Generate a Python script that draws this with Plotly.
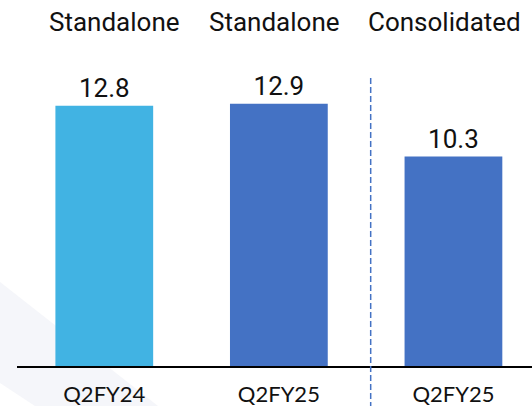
import plotly.graph_objects as go

categories = ["Q2FY24", "Q2FY25", "Q2FY25 "]
tick_labels = ["Q2FY24", "Q2FY25", "Q2FY25"]
values = [12.8, 12.9, 10.3]
bar_colors = ["#41B3E3", "#4472C4", "#4472C4"]
group_labels = ["Standalone", "Standalone", "Consolidated"]

fig = go.Figure()
fig.add_trace(go.Bar(
    x=[0, 1, 2], y=values,
    marker=dict(color=bar_colors, line=dict(width=0)),
    width=0.56,
    text=[f"{v:.1f}" for v in values],
    textposition="outside",
    textfont=dict(family="Roboto", size=26, color="#111111"),
    cliponaxis=False,
    hoverinfo="skip",
))

# header labels
shifts = [10, -4, -9]
for i, (lab, sh) in enumerate(zip(group_labels, shifts)):
    fig.add_annotation(x=i, y=0.94, xref="x", yref="paper", text=lab,
                       showarrow=False, xshift=sh, yanchor="middle",
                       font=dict(family="Roboto", size=26, color="#111111"))

# background decoration
def px2paper(px, py):
    return (px - 17) / 515, (366 - py) / 366

pts = [px2paper(0, 282), px2paper(158, 406), px2paper(35, 406), px2paper(0, 383)]
path = "M " + " L ".join(f"{x:.4f},{y:.4f}" for x, y in pts) + " Z"
fig.add_shape(type="path", path=path, xref="paper", yref="paper",
              fillcolor="#F5F6FA", line=dict(width=0), layer="below")

# separator dashed line
fig.add_shape(type="line", xref="x", yref="paper", x0=1.526, x1=1.526,
              y0=(366 - 78) / 366, y1=(366 - 406) / 366,
              line=dict(color="#4472C4", width=1.5, dash="6px,3px"), layer="above")

fig.update_layout(
    width=532, height=406,
    margin=dict(l=17, r=0, t=0, b=40),
    paper_bgcolor="white", plot_bgcolor="rgba(0,0,0,0)",
    showlegend=False,
    bargap=0.44,
    xaxis=dict(range=[-0.5, 2.45], tickvals=[0, 1, 2], ticktext=tick_labels,
               showline=True, linecolor="black", linewidth=2,
               showgrid=False, zeroline=False,
               ticks="outside", ticklen=8, tickcolor="rgba(0,0,0,0)",
               tickfont=dict(family="Lato", size=22, color="#111111")),
    yaxis=dict(range=[0, 18], visible=False, showgrid=False, zeroline=False),
)

fig.write_html("out.html", config={"displayModeBar": False},
               post_script="document.body.style.margin='0';document.body.style.overflow='hidden';")
